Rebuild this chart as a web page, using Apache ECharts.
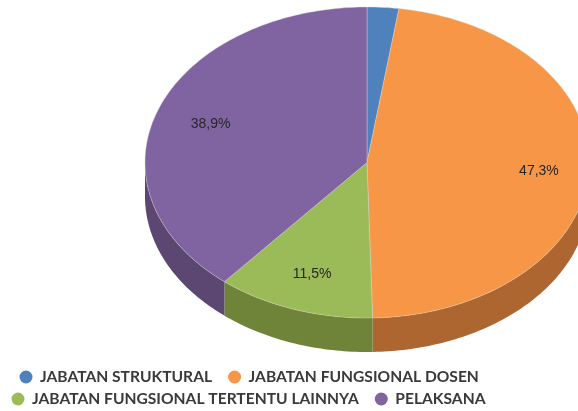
<!DOCTYPE html>
<html lang="id">
<head>
    <meta charset="UTF-8">
    <title>Jabatan</title>
    <style>
        html,body{margin:0;padding:0;background:#fff;}
        #main{width:578px;height:411px;}
    </style>
    <script src="https://cdn.jsdelivr.net/npm/echarts@6/dist/echarts.min.js"></script>
</head>
<body>
    <div id="main"></div>
    <script>
        var names = ['JABATAN STRUKTURAL', 'JABATAN FUNGSIONAL DOSEN', 'JABATAN FUNGSIONAL TERTENTU LAINNYA', 'PELAKSANA'];
        var values = [2.3, 47.3, 11.5, 38.9];
        var labels = ['', '47,3%', '11,5%', '38,9%'];
        var topColors = ['#4f81bd', '#f79646', '#9bbb59', '#8064a2'];
        var sideColors = ['#3a5f8c', '#ad6630', '#6f8439', '#5c4773'];

        var cx = 367, cy = 162.5, rx = 222, ry = 155.5, depth = 34;
        var total = values.reduce(function(a, b){ return a + b; }, 0);

        function pt(deg, r, dy){
            var a = deg * Math.PI / 180;
            return [cx + rx * r * Math.sin(a), cy - ry * r * Math.cos(a) + (dy || 0)];
        }

        function sliceItem(index){
            var before = values.slice(0, index).reduce(function(a, b){ return a + b; }, 0);
            return function(params, api){
                var start = before / total * 360;
                var end = start + api.value(0) / total * 360;
                var children = [];

                // side wall, only the front half (90-270 deg) can be seen
                var s0 = Math.max(start, 90), s1 = Math.min(end, 270);
                if (s1 > s0) {
                    var wall = [], d;
                    for (d = s0; d < s1; d += 1) wall.push(pt(d, 1));
                    wall.push(pt(s1, 1));
                    for (d = s1; d > s0; d -= 1) wall.push(pt(d, 1, depth));
                    wall.push(pt(s0, 1, depth));
                    children.push({type: 'polygon', shape: {points: wall}, style: {fill: sideColors[index]}});
                }

                var face = [[cx, cy]], a;
                for (a = start; a < end; a += 1) face.push(pt(a, 1));
                face.push(pt(end, 1));
                children.push({type: 'polygon', shape: {points: face}, style: {fill: api.visual('color'), stroke: '#d9d9c8', lineWidth: 0.4}});

                if (labels[index]) {
                    var p = pt((start + end) / 2, index === 1 ? 0.776 : 0.75, 1.5);
                    children.push({
                        type: 'text',
                        z2: 10,
                        style: {
                            text: labels[index], x: p[0], y: p[1],
                            align: 'center', verticalAlign: 'middle',
                            font: '14px "Liberation Sans"', fill: '#262626'
                        }
                    });
                }
                return {type: 'group', children: children};
            };
        }

        var series = names.map(function(name, i){
            return {
                name: name,
                type: 'custom',
                coordinateSystem: 'none',
                animation: false,
                silent: true,
                itemStyle: {color: topColors[i]},
                renderItem: sliceItem(i),
                data: [[values[i]]]
            };
        });

        function legendRow(data, left, top){
            return {
                data: data, left: left, top: top, orient: 'horizontal',
                icon: 'circle', itemWidth: 13, itemHeight: 13, itemGap: 16,
                selectedMode: false, padding: 0,
                textStyle: {fontFamily: 'Lato', fontWeight: 'bold', fontSize: 15.6, color: '#3a3a3a', padding: [0, 0, 0, 2.5]}
            };
        }

        var myChart = echarts.init(document.getElementById('main'));
        myChart.setOption({
            animation: false,
            legend: [
                legendRow(names.slice(0, 2), 19.5, 369),
                legendRow(names.slice(2, 4), 11.5, 391)
            ],
            series: series
        });
    </script>
</body>
</html>
